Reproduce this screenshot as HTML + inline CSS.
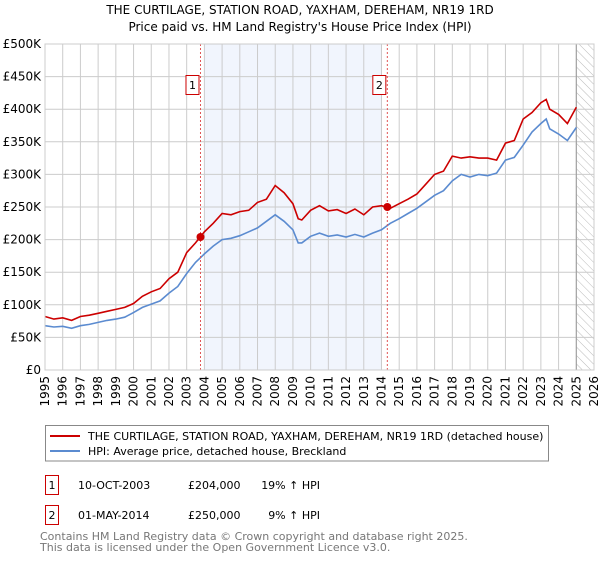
<!DOCTYPE html>
<html><head><meta charset="utf-8"><style>
body{margin:0;background:#fff;font-family:"DejaVu Sans","Liberation Sans",sans-serif;}
svg text{font-family:"DejaVu Sans","Liberation Sans",sans-serif;}
</style></head><body>
<svg id="c" width="600" height="560" xmlns="http://www.w3.org/2000/svg">
<defs><pattern id="h" width="6" height="6" patternUnits="userSpaceOnUse" patternTransform="rotate(-45)"><line x1="0" y1="0" x2="0" y2="6" stroke="#bbb" stroke-width="1"/></pattern></defs>
<text x="300" y="14" text-anchor="middle" font-size="12">THE CURTILAGE, STATION ROAD, YAXHAM, DEREHAM, NR19 1RD</text>
<text x="300" y="31" text-anchor="middle" font-size="12">Price paid vs. HM Land Registry's House Price Index (HPI)</text>
<g id="plot"></g>
<rect x="45.5" y="425.5" width="503" height="35.5" fill="#fff" stroke="#888"/>
<line x1="50" y1="436" x2="80" y2="436" stroke="#cc0000" stroke-width="2"/>
<text x="88" y="440" font-size="11">THE CURTILAGE, STATION ROAD, YAXHAM, DEREHAM, NR19 1RD (detached house)</text>
<line x1="50" y1="451" x2="80" y2="451" stroke="#5b8bd0" stroke-width="2"/>
<text x="88" y="455" font-size="11">HPI: Average price, detached house, Breckland</text>
<g>
<rect x="45.5" y="475.5" width="13" height="19" fill="#fff" stroke="#cc0000"/>
<text x="52" y="489" text-anchor="middle" font-size="11">1</text>
<text x="78" y="489" font-size="11">10-OCT-2003</text>
<text x="188" y="489" font-size="11">£204,000</text>
<text x="320" y="489" text-anchor="end" font-size="11">19% ↑ HPI</text></g>
<g>
<rect x="45.5" y="505.5" width="13" height="19" fill="#fff" stroke="#cc0000"/>
<text x="52" y="519" text-anchor="middle" font-size="11">2</text>
<text x="78" y="519" font-size="11">01-MAY-2014</text>
<text x="188" y="519" font-size="11">£250,000</text>
<text x="320" y="519" text-anchor="end" font-size="11">9% ↑ HPI</text></g>
<text x="40" y="540" font-size="11" fill="#777">Contains HM Land Registry data © Crown copyright and database right 2025.</text>
<text x="40" y="551" font-size="11" fill="#777">This data is licensed under the Open Government Licence v3.0.</text>
</svg>
<script>
const years=[1995,1995.5,1996,1996.5,1997,1997.5,1998,1998.5,1999,1999.5,2000,2000.5,2001,2001.5,2002,2002.5,2003,2003.5,2004,2004.5,2005,2005.5,2006,2006.5,2007,2007.5,2008,2008.5,2009,2009.3,2009.5,2010,2010.5,2011,2011.5,2012,2012.5,2013,2013.5,2014,2014.5,2015,2015.5,2016,2016.5,2017,2017.5,2018,2018.5,2019,2019.5,2020,2020.5,2021,2021.5,2022,2022.5,2023,2023.3,2023.5,2024,2024.5,2025];
const hpi=[68,66,67,64,68,70,73,76,78,81,88,96,101,106,118,128,148,165,178,190,200,202,206,212,218,228,238,228,215,195,195,205,210,205,207,204,208,204,210,215,225,232,240,248,258,268,275,290,300,296,300,298,302,322,326,345,365,378,385,370,362,352,372];
const prop=[82,78,80,76,82,84,87,90,93,96,102,113,120,125,140,150,180,195,212,225,240,238,243,245,257,262,283,272,255,232,230,245,252,244,246,240,247,238,250,252,248,255,262,270,285,300,305,328,325,327,325,325,322,348,352,385,395,410,415,400,392,378,403];
const yTicks=[0,50,100,150,200,250,300,350,400,450,500];
const xTicks=[1995,1996,1997,1998,1999,2000,2001,2002,2003,2004,2005,2006,2007,2008,2009,2010,2011,2012,2013,2014,2015,2016,2017,2018,2019,2020,2021,2022,2023,2024,2025,2026];
const sales=[{t:2003.78,v:204,label:"1"},{t:2014.33,v:250,label:"2"}];
const X0=45,X1=594,Y0=370,Y1=44;
const x=t=>X0+(t-1995)/(2026-1995)*(X1-X0);
const y=v=>Y0-v/500*(Y0-Y1);
const NS="http://www.w3.org/2000/svg",g=document.getElementById('plot');
function mk(tag,a,parent){const e=document.createElementNS(NS,tag);for(const k in a)e.setAttribute(k,a[k]);(parent||g).appendChild(e);return e;}
let e;
e=mk('rect',{x:x(2004),y:Y1,width:x(2014)-x(2004),height:Y0-Y1,fill:'#eef3fc',opacity:0.8});


e=mk('rect',{x:x(2025),y:Y1,width:X1-x(2025),height:Y0-Y1,fill:'url(#h)'});


yTicks.forEach(v=>{
 e=mk('line',{x1:X0,x2:X1,y1:y(v),y2:y(v),stroke:'#ccc'});
 
 
 e=mk('text',{x:X0-4,y:y(v)+4,'text-anchor':'end','font-size':12});
 e.textContent=v===0?'£0':'£'+v+'K';
 
 
});
xTicks.forEach(t=>{
 e=mk('line',{x1:x(t),x2:x(t),y1:Y1,y2:Y0,stroke:'#ccc'});
 
 
 e=mk('text',{x:0,y:0,'text-anchor':'end','font-size':12,transform:`translate(${x(t)+4},${Y0+6}) rotate(-90)`});
 e.textContent=t;
 
 
});
e=mk('line',{x1:x(2025),x2:x(2025),y1:Y1,y2:Y0,stroke:'#999'});


e=mk('path',{d:hpi.map((v,i)=>(i?'L':'M')+x(years[i]).toFixed(1)+','+y(v).toFixed(1)).join(''),fill:'none',stroke:'#5b8bd0','stroke-width':1.6});


e=mk('path',{d:prop.map((v,i)=>(i?'L':'M')+x(years[i]).toFixed(1)+','+y(v).toFixed(1)).join(''),fill:'none',stroke:'#cc0000','stroke-width':1.6});


sales.forEach(s=>{
 e=mk('line',{x1:x(s.t),x2:x(s.t),y1:Y1,y2:Y0,stroke:'#e05555','stroke-dasharray':'2,2'});
 
 
 e=mk('circle',{cx:x(s.t),cy:y(s.v),r:4,fill:'#cc0000'});
 
 
 e=mk('rect',{x:x(s.t)-14.5,y:75.5,width:13,height:19,fill:'#fff',stroke:'#cc0000'});
 
 
 e=mk('text',{x:x(s.t)-8,y:89,'text-anchor':'middle','font-size':11});
 e.textContent=s.label;
 
 
});
e=mk('rect',{x:X0,y:Y1,width:X1-X0,height:Y0-Y1,fill:'none',stroke:'#ccc'});


</script>
</body></html>
